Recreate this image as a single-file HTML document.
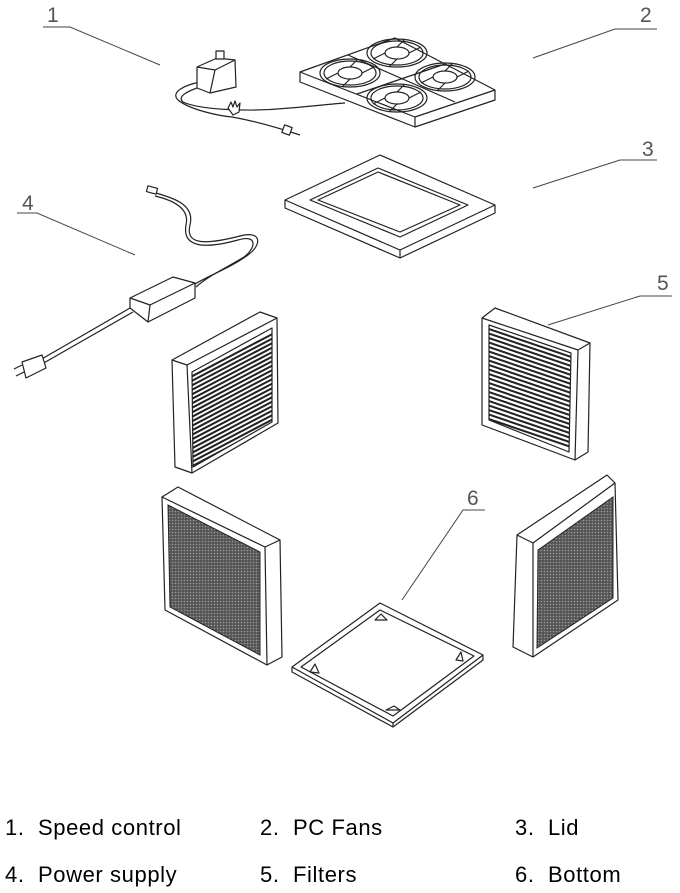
<!DOCTYPE html>
<html><head><meta charset="utf-8"><style>
html,body{margin:0;padding:0;background:#fff}
svg{display:block}
.l{fill:none;stroke:#222;stroke-width:1.2;stroke-linejoin:round}
.f{fill:#fff;stroke:#222;stroke-width:1.2;stroke-linejoin:round}
.ld{fill:none;stroke:#444;stroke-width:1}
.n{font-family:"Liberation Sans",sans-serif;font-size:21px;fill:#555;font-weight:300}
.t{font-family:"Liberation Sans",sans-serif;font-size:22px;fill:#000;letter-spacing:0.6px;white-space:pre}
</style></head><body>
<svg width="680" height="893" viewBox="0 0 680 893">
<defs>
<pattern id="mesh" width="3" height="3" patternUnits="userSpaceOnUse">
<rect width="3" height="3" fill="#555"/><circle cx="1.5" cy="1.5" r="0.8" fill="#999"/>
</pattern>
<clipPath id="lsl"><polygon points="192,372 272,328 272,422 193,467"/></clipPath>
<clipPath id="rsl"><polygon points="489,325 571,353 569,452 489,420"/></clipPath>
</defs>

<text class="n" x="47" y="22">1</text>
<polyline class="ld" points="43,27 70,27 160,65"/>
<text class="n" x="640" y="22">2</text>
<polyline class="ld" points="657,29 615,29 533,58"/>
<text class="n" x="642" y="156">3</text>
<polyline class="ld" points="657,160 620,160 533,188"/>
<text class="n" x="22" y="210">4</text>
<polyline class="ld" points="17,213 37,213 135,255"/>
<text class="n" x="657" y="290">5</text>
<polyline class="ld" points="672,296 640,296 548,325"/>
<text class="n" x="467" y="505">6</text>
<polyline class="ld" points="485,510 463,510 402,600"/>

<!-- speed control -->
<path class="l" d="M200,82 C185,85 170,92 178,100 C190,110 220,116 232,117 C260,122 285,130 300,135"/>
<path class="l" d="M203,86 C190,90 176,96 183,102 C200,110 250,112 290,108 C315,106 330,104 345,103"/>
<polygon class="f" points="197,67 217,58 235,60 236,87 210,93 197,88"/>
<polyline class="l" points="197,67 215,70 235,60"/>
<line class="l" x1="215" y1="70" x2="210" y2="93"/>
<rect class="f" x="216" y="51" width="8" height="8"/>
<path class="f" d="M228,108 l3,-6 l2,5 l2,-6 l2,6 l3,-4 l-1,9 l-6,3 z"/>
<rect class="f" x="283" y="126" width="8" height="8" transform="rotate(20 287 130)"/>

<!-- fans -->
<polygon class="f" points="300,72 395,38 495,90 495,100 415,127 300,82"/>
<polyline class="l" points="300,72 415,117 495,90"/>
<line class="l" x1="415" y1="117" x2="415" y2="127"/>
<line class="l" x1="348" y1="55" x2="455" y2="102"/>
<line class="l" x1="445" y1="64" x2="357" y2="94"/>
<g class="l" stroke-width="1">
<ellipse cx="397" cy="53" rx="30" ry="14"/><ellipse cx="397" cy="53" rx="26" ry="12"/>
<ellipse cx="350" cy="73" rx="30" ry="14"/><ellipse cx="350" cy="73" rx="26" ry="12"/>
<ellipse cx="445" cy="77" rx="30" ry="14"/><ellipse cx="445" cy="77" rx="26" ry="12"/>
<ellipse cx="397" cy="98" rx="30" ry="14"/><ellipse cx="397" cy="98" rx="26" ry="12"/>
<ellipse cx="397" cy="53" rx="12" ry="6"/><ellipse cx="350" cy="73" rx="12" ry="6"/>
<ellipse cx="445" cy="77" rx="12" ry="6"/><ellipse cx="397" cy="98" rx="12" ry="6"/>
<path d="M409,53 l12,-6 M385,53 l-12,6 M397,47 l8,-8 M397,59 l-8,8 M362,73 l12,-6 M338,73 l-12,6 M350,67 l8,-8 M350,79 l-8,8 M457,77 l12,-6 M433,77 l-12,6 M445,71 l8,-8 M445,83 l-8,8 M409,98 l12,-6 M385,98 l-12,6 M397,92 l8,-8 M397,104 l-8,8"/>
</g>

<!-- lid -->
<polygon class="f" points="285,200 380,155 495,205 495,213 400,258 285,208"/>
<polyline class="l" points="285,200 400,250 495,205"/>
<line class="l" x1="400" y1="250" x2="400" y2="258"/>
<polygon class="l" points="310,200 378,168 468,205 400,237"/>
<polygon class="l" points="318,200 378,172 460,205 400,232"/>

<!-- power supply -->
<path class="l" d="M152,192 C175,198 195,205 190,225 C185,245 205,245 240,236 C262,230 262,245 248,255 C230,268 210,275 195,284"/>
<path class="l" d="M155,196 C172,200 190,208 186,225 C182,248 205,249 238,240 C258,234 256,248 244,257 C226,268 208,276 196,287"/>
<rect class="f" x="147" y="187" width="10" height="6" transform="rotate(15 152 190)"/>
<polygon class="f" points="130,298 173,277 195,283 195,298 148,322 130,308"/>
<polyline class="l" points="130,298 150,305 195,283"/>
<line class="l" x1="150" y1="305" x2="148" y2="322"/>
<path class="l" d="M130,308 L40,360 M133,312 L42,364"/>
<polygon class="f" points="22,362 42,355 46,368 26,378"/>
<path class="l" d="M22,365 l-8,4 M24,372 l-8,4"/>

<!-- left slat filter -->
<polygon class="f" points="172,360 260,312 277,318 278,423 192,473 175,467"/>
<polyline class="l" points="172,360 187,365 277,318"/>
<line class="l" x1="187" y1="365" x2="192" y2="473"/>
<polygon class="f" points="192,372 272,328 272,422 193,467"/>
<g clip-path="url(#lsl)" stroke="#222" stroke-width="2">
<line x1="185" y1="380" x2="280" y2="330"/><line x1="185" y1="384.5" x2="280" y2="334.5"/><line x1="185" y1="389" x2="280" y2="339"/><line x1="185" y1="393.5" x2="280" y2="343.5"/><line x1="185" y1="398" x2="280" y2="348"/><line x1="185" y1="402.5" x2="280" y2="352.5"/><line x1="185" y1="407" x2="280" y2="357"/><line x1="185" y1="411.5" x2="280" y2="361.5"/><line x1="185" y1="416" x2="280" y2="366"/><line x1="185" y1="420.5" x2="280" y2="370.5"/><line x1="185" y1="425" x2="280" y2="375"/><line x1="185" y1="429.5" x2="280" y2="379.5"/><line x1="185" y1="434" x2="280" y2="384"/><line x1="185" y1="438.5" x2="280" y2="388.5"/><line x1="185" y1="443" x2="280" y2="393"/><line x1="185" y1="447.5" x2="280" y2="397.5"/><line x1="185" y1="452" x2="280" y2="402"/><line x1="185" y1="456.5" x2="280" y2="406.5"/><line x1="185" y1="461" x2="280" y2="411"/><line x1="185" y1="465.5" x2="280" y2="415.5"/><line x1="185" y1="470" x2="280" y2="420"/><line x1="185" y1="474.5" x2="280" y2="424.5"/>
</g>

<!-- right slat filter -->
<polygon class="f" points="482,318 495,308 590,343 588,452 575,460 482,425"/>
<polyline class="l" points="482,318 578,350 590,343"/>
<line class="l" x1="578" y1="350" x2="575" y2="460"/>
<polygon class="f" points="489,325 571,353 569,452 489,420"/>
<g clip-path="url(#rsl)" stroke="#222" stroke-width="2">
<line x1="480" y1="326" x2="580" y2="360"/><line x1="480" y1="330.5" x2="580" y2="364.5"/><line x1="480" y1="335" x2="580" y2="369"/><line x1="480" y1="339.5" x2="580" y2="373.5"/><line x1="480" y1="344" x2="580" y2="378"/><line x1="480" y1="348.5" x2="580" y2="382.5"/><line x1="480" y1="353" x2="580" y2="387"/><line x1="480" y1="357.5" x2="580" y2="391.5"/><line x1="480" y1="362" x2="580" y2="396"/><line x1="480" y1="366.5" x2="580" y2="400.5"/><line x1="480" y1="371" x2="580" y2="405"/><line x1="480" y1="375.5" x2="580" y2="409.5"/><line x1="480" y1="380" x2="580" y2="414"/><line x1="480" y1="384.5" x2="580" y2="418.5"/><line x1="480" y1="389" x2="580" y2="423"/><line x1="480" y1="393.5" x2="580" y2="427.5"/><line x1="480" y1="398" x2="580" y2="432"/><line x1="480" y1="402.5" x2="580" y2="436.5"/><line x1="480" y1="407" x2="580" y2="441"/><line x1="480" y1="411.5" x2="580" y2="445.5"/><line x1="480" y1="416" x2="580" y2="450"/>
</g>

<!-- left mesh filter -->
<polygon class="f" points="162,497 178,487 280,540 282,657 267,665 165,610"/>
<polyline class="l" points="162,497 265,547 280,540"/>
<line class="l" x1="265" y1="547" x2="267" y2="665"/>
<polygon points="168,505 260,552 260,655 170,607" fill="url(#mesh)" stroke="#222"/>

<!-- right mesh filter -->
<polygon class="f" points="517,535 607,475 615,483 618,600 533,657 513,647"/>
<polyline class="l" points="517,535 533,543 615,483"/>
<line class="l" x1="533" y1="543" x2="533" y2="657"/>
<polygon points="538,550 613,497 613,598 537,648" fill="url(#mesh)" stroke="#222"/>

<!-- bottom plate -->
<polygon class="f" points="292,667 380,603 483,655 483,660 393,727 292,672"/>
<polyline class="l" points="292,667 393,723 483,655"/>
<line class="l" x1="393" y1="723" x2="393" y2="727"/>
<polygon class="l" points="301,667 380,610 474,656 393,716"/>
<path class="f" d="M375,620 l6,-6 l6,6 z"/>
<path class="f" d="M310,672 l5,-8 l4,9 z"/>
<path class="f" d="M456,660 l5,-8 l2,9 z"/>
<path class="f" d="M386,710 l8,-4 l6,4 z"/>

<!-- legend -->
<text class="t" x="5" y="835">1.  Speed control</text>
<text class="t" x="260" y="835">2.  PC Fans</text>
<text class="t" x="515" y="835">3.  Lid</text>
<text class="t" x="5" y="882">4.  Power supply</text>
<text class="t" x="260" y="882">5.  Filters</text>
<text class="t" x="515" y="882">6.  Bottom</text>
</svg>
</body></html>
